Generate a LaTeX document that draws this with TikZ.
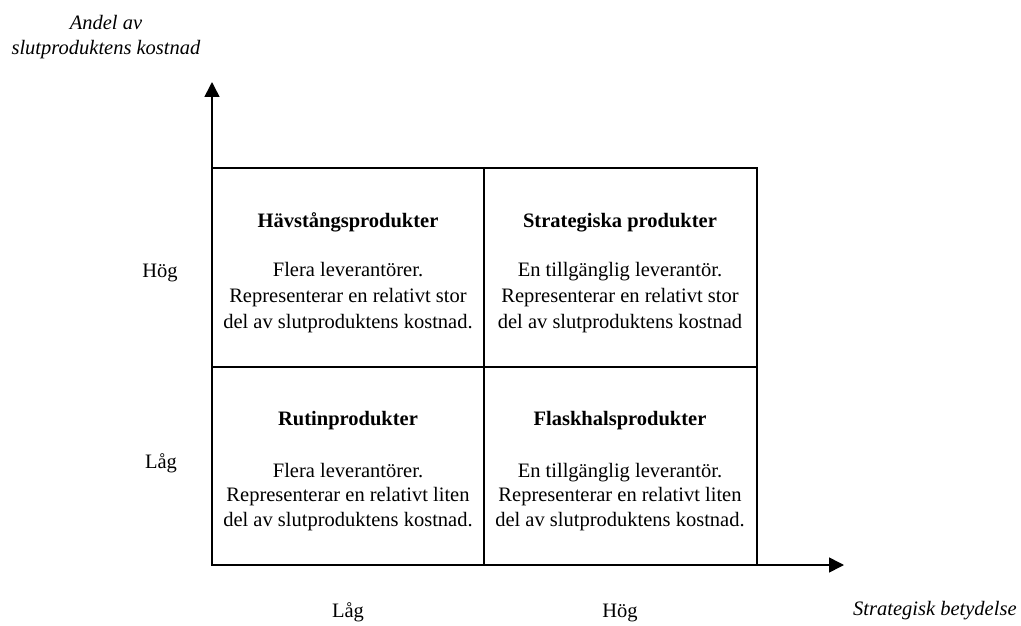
\documentclass[tikz,border=0pt]{standalone}
\usepackage{fontspec}
\setmainfont{Liberation Serif}
\usetikzlibrary{arrows.meta}
\begin{document}
\begin{tikzpicture}[x=1pt,y=-1pt,
  every node/.style={font=\fontsize{20.5}{26}\selectfont, inner sep=0pt, anchor=base},
  cell/.style={align=center},
  celllow/.style={align=center, font=\fontsize{20.5}{24.5}\selectfont},
  title/.style={font=\fontsize{20.5}{26}\selectfont\bfseries},
  axislabel/.style={font=\fontsize{20.5}{25}\selectfont\itshape, align=center},
  frame/.style={line width=1.6pt},
  axis/.style={line width=1.6pt, -{Triangle[length=15pt,width=15pt]}}]
\useasboundingbox (0,0) rectangle (1021,626);
% matrix frame
\coordinate (tl) at (212,168);
\coordinate (br) at (757,565);
\draw[frame] (tl) rectangle (br);
\draw[frame] (484,168) -- (484,565);
\draw[frame] (212,367) -- (757,367);
% axes
\coordinate (o) at (212,565);
\coordinate (ytip) at (212,82);
\coordinate (xtip) at (844,565);
\draw[axis] (o) -- (ytip);
\draw[axis] (o) -- (xtip);
% axis titles (multi-line nodes sit on the baseline of their last line)
\node[axislabel] (ylab) at (106,55) {Andel av\\slutproduktens kostnad};
\node[axislabel, anchor=base west] (xlab) at (853,615) {Strategisk betydelse};
% level labels
\node (yhi) at (160,277) {Hög};
\node (ylo) at (161,468) {Låg};
\node (xlo) at (348,617) {Låg};
\node (xhi) at (620,617) {Hög};
% quadrants
\node[title] (t1) at (348,227) {Hävstångsprodukter};
\node[cell] (c1) at (348,328) {Flera leverantörer.\\Representerar en relativt stor\\del av slutproduktens kostnad.};
\node[title] (t2) at (620,227) {Strategiska produkter};
\node[cell] (c2) at (620,328) {En tillgänglig leverantör.\\Representerar en relativt stor\\del av slutproduktens kostnad};
\node[title] (t3) at (348,425) {Rutinprodukter};
\node[celllow] (c3) at (348,526) {Flera leverantörer.\\Representerar en relativt liten\\del av slutproduktens kostnad.};
\node[title] (t4) at (620,425) {Flaskhalsprodukter};
\node[celllow] (c4) at (620,526) {En tillgänglig leverantör.\\Representerar en relativt liten\\del av slutproduktens kostnad.};
\end{tikzpicture}
\end{document}
